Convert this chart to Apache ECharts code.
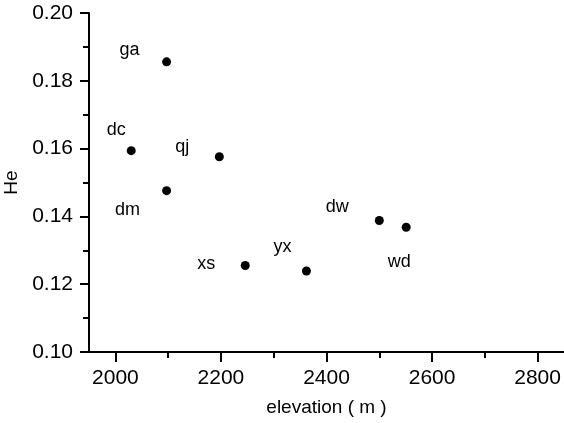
<!DOCTYPE html>
<html>
<head>
<meta charset="utf-8">
<script src="https://cdn.jsdelivr.net/npm/echarts@6/dist/echarts.min.js"></script>
<style>
  html, body { margin: 0; padding: 0; background: #fff; }
  #chart { width: 564px; height: 423px; }
</style>
</head>
<body>
<div id="chart"></div>
<script>
var sites = ['ga', 'dc', 'qj', 'dm', 'xs', 'yx', 'dw', 'wd'];
var elevation = [2097, 2030, 2197, 2097, 2246, 2362, 2500, 2551];
var heValues = [0.1856, 0.1594, 0.1576, 0.1476, 0.1255, 0.1239, 0.1388, 0.1368];
var xMajorTicks = [2000, 2200, 2400, 2600, 2800];
var xMinorTicks = [2100, 2300, 2500, 2700];

// where each site name sits relative to its dot
var labelOffset = {
    ga: [-37, -12], dc: [-15, -21], qj: [-37, -10], dm: [-39, 19],
    xs: [-39, -2], yx: [-24, -24], dw: [-42, -13], wd: [-7, 35]
};

var font = "'Liberation Sans', Arial, Helvetica, sans-serif";

var points = [];
for (let i = 0; i < sites.length; i++) {
    points.push({
        value: [elevation[i], heValues[i]],
        name: sites[i],
        label: {offset: labelOffset[sites[i]]}
    });
}

var option = {
    animation: false,
    grid: {left: 89, right: 0, top: 13, bottom: 71, containLabel: false, outerBoundsMode: 'none'},
    xAxis: [{
        type: 'value',
        min: 1950,
        max: 2850,
        name: 'elevation ( m )',
        nameLocation: 'middle',
        nameGap: 46,
        nameTextStyle: {color: '#000', fontSize: 19, fontFamily: font},
        splitLine: {show: false},
        axisLine: {lineStyle: {color: '#000', width: 2}},
        axisTick: {customValues: xMajorTicks, length: 10, lineStyle: {color: '#000', width: 2}},
        axisLabel: {
            customValues: xMajorTicks, color: '#000', fontSize: 21, fontFamily: font, margin: 16,
            formatter: function (v) { return String(v); }
        }
    }, {
        type: 'value',
        min: 1950,
        max: 2850,
        position: 'bottom',
        splitLine: {show: false},
        axisLine: {show: false},
        axisTick: {customValues: xMinorTicks, length: 6, lineStyle: {color: '#000', width: 2}},
        axisLabel: {show: false}
    }],
    yAxis: {
        type: 'value',
        min: 0.10,
        max: 0.20,
        interval: 0.02,
        name: 'He',
        nameLocation: 'middle',
        nameGap: 66,
        nameTextStyle: {color: '#000', fontSize: 19, fontFamily: font},
        splitLine: {show: false},
        axisLine: {show: true, lineStyle: {color: '#000', width: 2}},
        axisTick: {show: true, length: 9, lineStyle: {color: '#000', width: 2}},
        minorTick: {show: true, splitNumber: 2, length: 6, lineStyle: {color: '#000', width: 2}},
        axisLabel: {
            color: '#000', fontSize: 21, fontFamily: font, margin: 16,
            formatter: function (v) { return v.toFixed(2); }
        }
    },
    series: [{
        type: 'scatter',
        symbolSize: 9,
        itemStyle: {color: '#000', opacity: 1},
        label: {
            show: true,
            position: 'inside',
            formatter: '{b}',
            color: '#000',
            opacity: 1,
            fontSize: 18,
            fontFamily: font
        },
        data: points
    }]
};

var chart = echarts.init(document.getElementById('chart'));
chart.setOption(option);
</script>
</body>
</html>
